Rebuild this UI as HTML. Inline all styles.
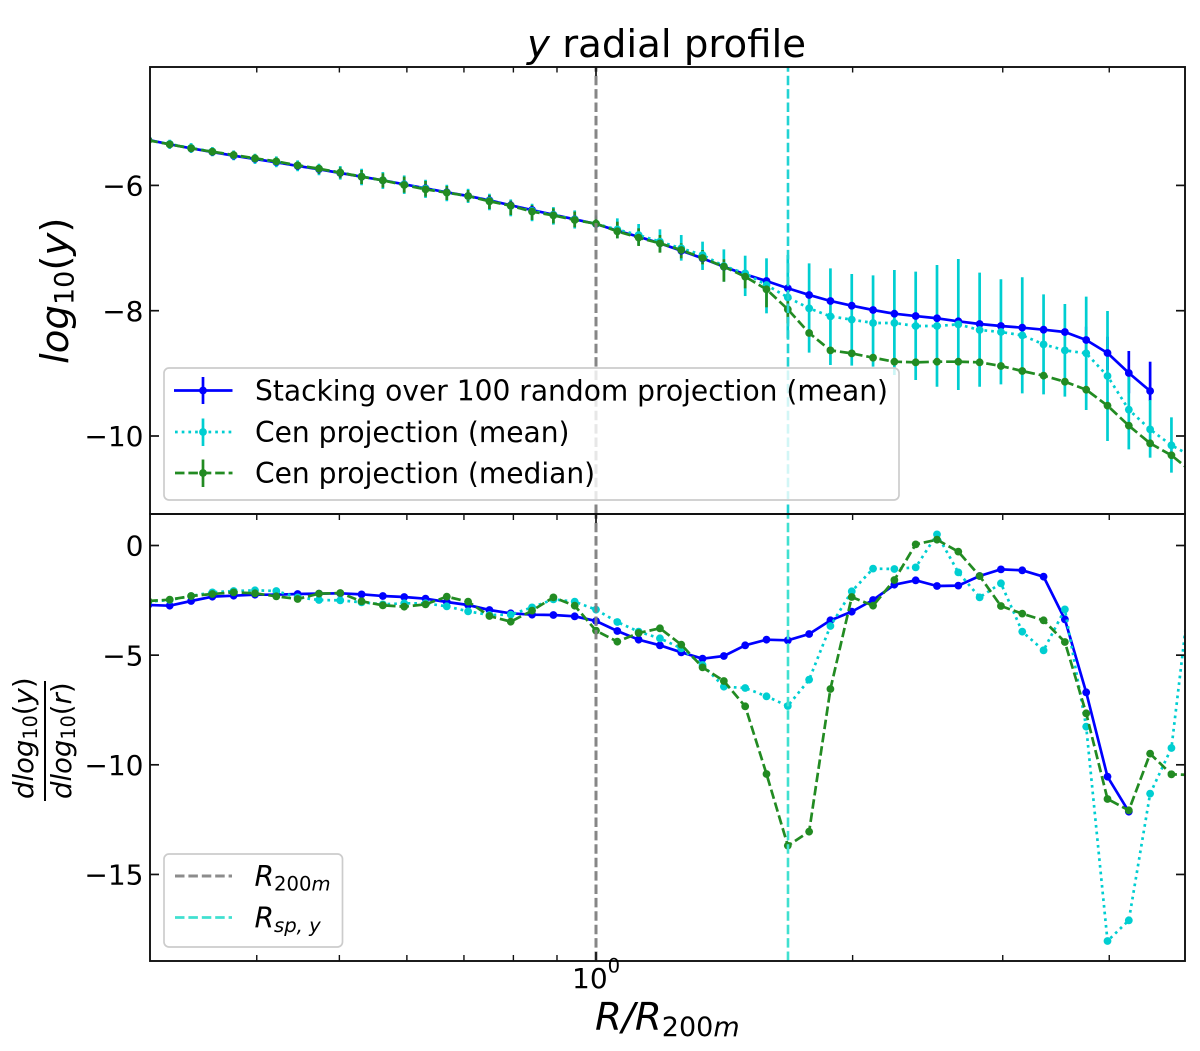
<!DOCTYPE html>
<html lang="en">
<head>
<meta charset="utf-8">
<title>y radial profile</title>
<style>
html,body{margin:0;padding:0;background:#fff;}
svg{display:block;}
text{font-family:"DejaVu Sans","Liberation Sans",sans-serif;fill:#000;}
.i{font-style:italic;}
.u{font-style:normal;}
</style>
</head>
<body>
<svg id="chart" xmlns="http://www.w3.org/2000/svg" width="1200" height="1051" viewBox="0 0 1200 1051">
  <defs>
    <clipPath id="clip-top"><rect x="150" y="67" width="1035" height="447"/></clipPath>
    <clipPath id="clip-bottom"><rect x="150" y="514" width="1035" height="447"/></clipPath>
  </defs>
  <rect x="0" y="0" width="1200" height="1051" fill="#fff"/>
  <g id="top-bars" clip-path="url(#clip-top)"></g>
  <g id="top-lines" clip-path="url(#clip-top)"></g>
  <g id="bottom-lines" clip-path="url(#clip-bottom)"></g>
  <line x1="596" y1="514" x2="596" y2="67" stroke="#808080" stroke-width="3" stroke-dasharray="9.5 3.9" opacity="0.95"/>
  <line x1="788" y1="514" x2="788" y2="67" stroke="#22d3d3" stroke-width="2.6" stroke-dasharray="9.5 3.9"/>
  <line x1="596" y1="961" x2="596" y2="514" stroke="#808080" stroke-width="3" stroke-dasharray="9.5 3.9" opacity="0.95"/>
  <line x1="788" y1="961" x2="788" y2="514" stroke="#40e0d0" stroke-width="2.6" stroke-dasharray="9.5 3.9"/>
  <g id="ticks"></g>
  <rect x="150" y="67" width="1035" height="447" fill="none" stroke="#111" stroke-width="1.9"/>
  <rect x="150" y="514" width="1035" height="447" fill="none" stroke="#111" stroke-width="1.9"/>

  <text x="527" y="57" font-size="38.7"><tspan class="i">y</tspan> radial profile</text>
  <text transform="translate(68,364) rotate(-90)" font-size="38.7" class="i">log<tspan font-size="27" dy="5.5" class="u">10</tspan><tspan dy="-5.5" class="u">(</tspan>y<tspan class="u">)</tspan></text>
  <g transform="translate(0,800) rotate(-90)">
    <text x="1" y="33" font-size="27.5" class="i">dlog<tspan font-size="19.2" dy="4" class="u">10</tspan><tspan dy="-4" class="u">(</tspan>y<tspan class="u">)</tspan></text>
    <rect x="-1" y="44" width="120" height="2" fill="#000"/>
    <text x="1" y="71" font-size="27.5" class="i">dlog<tspan font-size="19.2" dy="4" class="u">10</tspan><tspan dy="-4" class="u">(</tspan>r<tspan class="u">)</tspan></text>
  </g>
  <text x="595" y="1030" font-size="38.7" class="i">R/R<tspan font-size="27" dy="6" class="u">200</tspan><tspan font-size="27">m</tspan></text>
  <text x="572" y="988" font-size="28">10<tspan font-size="19.6" dy="-15.5">0</tspan></text>

  <g>
    <rect x="164" y="368" width="735" height="132" rx="5" fill="#fff" fill-opacity="0.8" stroke="#ccc" stroke-width="1.7"/>
    <line x1="174" y1="390.5" x2="232.5" y2="390.5" stroke="#0000ff" stroke-width="2.7"/>
    <line x1="203" y1="377" x2="203" y2="404" stroke="#0000ff" stroke-width="2.7"/>
    <circle cx="203" cy="390.5" r="3.9" fill="#0000ff"/>
    <text x="255" y="400.5" font-size="28.1">Stacking over 100 random projection (mean)</text>
    <line x1="175" y1="432" x2="232.5" y2="432" stroke="#00ced1" stroke-width="2.7" stroke-dasharray="2.7 4"/>
    <line x1="203" y1="418.5" x2="203" y2="446" stroke="#00ced1" stroke-width="2.7"/>
    <circle cx="203" cy="432" r="3.9" fill="#00ced1"/>
    <text x="255" y="442" font-size="28.1">Cen projection (mean)</text>
    <line x1="175" y1="473" x2="232.5" y2="473" stroke="#228b22" stroke-width="2.7" stroke-dasharray="9.5 3.9"/>
    <line x1="203" y1="459.5" x2="203" y2="487" stroke="#228b22" stroke-width="2.7"/>
    <circle cx="203" cy="473" r="3.9" fill="#228b22"/>
    <text x="255" y="483" font-size="28.1">Cen projection (median)</text>
  </g>
  <g>
    <rect x="164" y="854" width="178.5" height="93" rx="5" fill="#fff" fill-opacity="0.8" stroke="#ccc" stroke-width="1.7"/>
    <line x1="175" y1="876" x2="232" y2="876" stroke="#808080" stroke-width="2.9" stroke-dasharray="9.5 3.9" opacity="0.9"/>
    <text x="254.5" y="886" font-size="28.1" class="i">R<tspan font-size="19.6" dy="4.5" class="u">200</tspan><tspan font-size="19.6">m</tspan></text>
    <line x1="175" y1="917.5" x2="232" y2="917.5" stroke="#40e0d0" stroke-width="2.7" stroke-dasharray="9.5 3.9"/>
    <text x="254.5" y="927.5" font-size="28.1" class="i">R<tspan font-size="19.6" dy="4.5">sp, y</tspan></text>
  </g>
</svg>
<script>
// Shared x values: R / R200m
const radius = [0.2985,0.3162,0.3350,0.3548,0.3758,0.3981,0.4217,0.4467,0.4732,0.5012,0.5309,0.5623,0.5957,0.6310,0.6683,0.7079,0.7499,0.7943,0.8414,0.8913,0.9441,1,1.0593,1.1220,1.1885,1.2589,1.3335,1.4125,1.4962,1.5849,1.6788,1.7783,1.8836,1.9953,2.1135,2.2387,2.3714,2.5119,2.6607,2.8184,2.9854,3.1623,3.3497,3.5481,3.7584,3.9811,4.2170,4.4668,4.7315,5.0119];

// Upper panel: log10(y)
const blueProfile = [-5.275,-5.344,-5.408,-5.467,-5.526,-5.579,-5.631,-5.690,-5.743,-5.802,-5.861,-5.919,-5.982,-6.046,-6.110,-6.169,-6.238,-6.318,-6.393,-6.468,-6.541,-6.616,-6.723,-6.819,-6.924,-7.042,-7.164,-7.298,-7.419,-7.526,-7.642,-7.749,-7.845,-7.920,-7.989,-8.048,-8.085,-8.121,-8.169,-8.212,-8.244,-8.271,-8.303,-8.340,-8.468,-8.675,-8.994,-9.282];
const cyanProfile = [-5.280,-5.340,-5.402,-5.460,-5.518,-5.572,-5.622,-5.680,-5.735,-5.795,-5.858,-5.918,-5.985,-6.052,-6.115,-6.172,-6.246,-6.326,-6.408,-6.470,-6.545,-6.612,-6.705,-6.792,-6.898,-7.004,-7.111,-7.287,-7.404,-7.590,-7.787,-7.962,-8.090,-8.143,-8.196,-8.196,-8.244,-8.244,-8.218,-8.308,-8.340,-8.393,-8.537,-8.633,-8.680,-9.042,-9.580,-9.894,-10.149,-10.330];
const greenProfile = [-5.281,-5.345,-5.408,-5.462,-5.515,-5.568,-5.616,-5.680,-5.733,-5.797,-5.861,-5.919,-5.994,-6.063,-6.116,-6.169,-6.254,-6.324,-6.419,-6.478,-6.552,-6.611,-6.733,-6.834,-6.925,-7.031,-7.159,-7.297,-7.457,-7.659,-7.978,-8.356,-8.633,-8.681,-8.750,-8.814,-8.824,-8.814,-8.814,-8.824,-8.883,-8.963,-9.037,-9.133,-9.261,-9.516,-9.835,-10.117,-10.308,-10.585];

// Error bar limits in log10(y); null means no visible bar
const blueUpper = [null,null,null,null,null,null,null,null,null,null,null,null,null,null,null,null,null,null,null,null,null,null,null,null,null,null,null,null,null,null,null,null,null,null,null,null,null,null,null,null,null,null,null,null,-8.255,-8.415,-8.643,-8.814];
const blueLower = [null,null,null,null,null,null,null,null,null,null,null,null,null,null,null,null,null,null,null,null,null,null,null,null,null,null,null,null,null,null,null,null,null,null,null,null,null,null,null,null,null,null,null,null,-8.681,-8.947,-9.319,-9.441];
const cyanUpper = [-5.213,-5.271,-5.325,-5.388,-5.442,-5.495,-5.537,-5.601,-5.654,-5.692,-5.734,-5.787,-5.841,-5.910,-5.990,-6.054,-6.133,-6.224,-6.293,-6.346,-6.399,-6.479,-6.526,-6.616,-6.701,-6.792,-6.898,-7.021,-7.122,-7.164,-7.111,-7.244,-7.324,-7.414,-7.436,-7.350,-7.377,-7.271,-7.175,-7.393,-7.499,-7.467,-7.739,-7.893,-7.776,-8.005,-9.027,-9.426,-9.702,null];
const cyanLower = [-5.359,-5.418,-5.482,-5.535,-5.599,-5.657,-5.710,-5.774,-5.838,-5.907,-5.998,-6.056,-6.136,-6.200,-6.253,-6.280,-6.397,-6.493,-6.572,-6.626,-6.689,-6.743,-6.845,-6.951,-7.069,-7.201,-7.350,-7.537,-7.766,-8.042,-8.441,-8.670,-8.867,-8.877,-8.893,-9.027,-9.106,-9.213,-9.266,-9.213,-9.175,-9.319,-9.335,-9.372,-9.585,-10.080,-10.213,-10.346,-10.585,null];
const greenUpper = [-5.233,-5.291,-5.345,-5.408,-5.462,-5.515,-5.557,-5.621,-5.674,-5.712,-5.754,-5.807,-5.861,-5.930,-6.010,-6.074,-6.153,-6.244,-6.313,-6.366,-6.419,-6.499,-6.579,-6.685,-6.792,-6.925,-7.031,-7.180,-7.350,-7.563,-7.829,null,null,null,null,null,null,null,null,null,null,null,null,null,null,null,null,null,null,null];
const greenLower = [-5.339,-5.398,-5.462,-5.515,-5.579,-5.637,-5.690,-5.754,-5.818,-5.887,-5.978,-6.036,-6.116,-6.180,-6.233,-6.260,-6.377,-6.473,-6.552,-6.606,-6.669,-6.723,-6.845,-6.967,-7.074,-7.164,-7.260,-7.537,-7.643,-7.946,-8.202,null,null,null,null,null,null,null,null,null,null,null,null,null,null,null,null,null,null,null];

// Lower panel: d log10(y) / d log10(r)
const blueSlope = [-2.713,-2.744,-2.531,-2.333,-2.288,-2.242,-2.242,-2.211,-2.196,-2.181,-2.227,-2.303,-2.348,-2.424,-2.576,-2.713,-2.941,-3.093,-3.154,-3.169,-3.230,-3.443,-3.899,-4.294,-4.552,-4.871,-5.160,-5.039,-4.552,-4.294,-4.324,-4.036,-3.412,-3.017,-2.485,-1.786,-1.588,-1.847,-1.831,-1.391,-1.087,-1.132,-1.421,-3.367,-6.695,-10.541,-12.137];
const cyanSlope = [-2.561,-2.485,-2.303,-2.136,-2.075,-2.044,-2.075,-2.364,-2.485,-2.500,-2.592,-2.683,-2.637,-2.637,-2.774,-3.002,-3.169,-3.154,-2.820,-2.455,-2.561,-2.926,-3.488,-3.929,-4.233,-4.689,-5.449,-6.437,-6.498,-6.878,-7.319,-6.118,-3.671,-2.090,-1.056,-1.071,-0.996,0.509,-1.224,-2.364,-1.725,-3.929,-4.780,-2.911,-8.261,-18.034,-17.092,-11.316,-9.234,-1.026];
const greenSlope = [-2.531,-2.470,-2.303,-2.211,-2.136,-2.181,-2.318,-2.439,-2.196,-2.166,-2.546,-2.728,-2.789,-2.683,-2.333,-2.561,-3.215,-3.473,-2.971,-2.364,-2.744,-3.884,-4.385,-3.990,-3.777,-4.522,-5.556,-6.179,-7.334,-10.419,-13.687,-13.049,-6.543,-2.348,-2.744,-1.573,0.053,0.266,-0.281,-1.391,-2.759,-3.108,-3.412,-4.400,-7.653,-11.559,-12.076,-9.492,-10.434,-10.465];

// Tick values and labels
const topTickValues = [-6,-8,-10];
const topTickLabels = ['\u22126','\u22128','\u221210'];
const bottomTickValues = [0,-5,-10,-15];
const bottomTickLabels = ['0','\u22125','\u221210','\u221215'];
const minorTicks = [0.4,0.5,0.6,0.7,0.8,0.9,2,3,4];
const majorTicks = [1];

const NS = 'http://www.w3.org/2000/svg';
const xScale = r => 596 + 852.5 * Math.log10(r);
const yTop = v => 310.7 - (v + 8) * 62.65;
const yBottom = v => 545.5 - 21.93 * v;

function setAttrs(el, attrs) {
  for (const k in attrs) el.setAttribute(k, attrs[k]);
}

function addBars(parent, upper, lower, color, label) {
  upper.forEach((u, i) => {
    const l = lower[i];
    if (u === null || l === null) return;
    const bar = document.createElementNS(NS, 'line');
    
    
    setAttrs(bar, {x1: xScale(radius[i]), x2: xScale(radius[i]), y1: yTop(u), y2: yTop(l), stroke: color, 'stroke-width': 2.7});
    parent.appendChild(bar);
  });
}

function addSeries(parent, values, yScale, color, dash, label) {
  const path = document.createElementNS(NS, 'path');
  
  
  const d = values.map((v, i) => (i ? 'L' : 'M') + xScale(radius[i]).toFixed(2) + ' ' + yScale(v).toFixed(2)).join(' ');
  setAttrs(path, {d: d, fill: 'none', stroke: color, 'stroke-width': 2.7, 'stroke-linejoin': 'round'});
  if (dash) path.setAttribute('stroke-dasharray', dash);
  parent.appendChild(path);
  values.forEach((v, i) => {
    const dot = document.createElementNS(NS, 'circle');
    
    
    setAttrs(dot, {cx: xScale(radius[i]), cy: yScale(v), r: 3.9, fill: color});
    parent.appendChild(dot);
  });
}

function addTickLine(parent, x1, y1, x2, y2, name, width) {
  const t = document.createElementNS(NS, 'line');
  
  
  setAttrs(t, {x1: x1, y1: y1, x2: x2, y2: y2, stroke: '#111', 'stroke-width': width});
  parent.appendChild(t);
}

function addYTicks(parent, values, labels, scale, prefix) {
  values.forEach((v, i) => {
    const y = scale(v);
    addTickLine(parent, 150, y, 159, y, prefix + '-left-tick', 1.7);
    addTickLine(parent, 1176, y, 1185, y, prefix + '-right-tick', 1.7);
    const tx = document.createElementNS(NS, 'text');
    
    
    setAttrs(tx, {x: 143.5, y: y + 10.2, 'text-anchor': 'end', 'font-size': 28});
    tx.textContent = labels[i];
    parent.appendChild(tx);
  });
}

const CYAN = '#00ced1', BLUE = '#0000ff', GREEN = '#228b22';
const DOTTED = '2.7 4', DASHED = '9.5 3.9';

const topBars = document.getElementById('top-bars');
addBars(topBars, blueUpper, blueLower, BLUE, 'stacking-mean');
addBars(topBars, cyanUpper, cyanLower, CYAN, 'cen-mean');
addBars(topBars, greenUpper, greenLower, GREEN, 'cen-median');

const topLines = document.getElementById('top-lines');
addSeries(topLines, blueProfile, yTop, BLUE, null, 'stacking-mean-profile');
addSeries(topLines, cyanProfile, yTop, CYAN, DOTTED, 'cen-mean-profile');
addSeries(topLines, greenProfile, yTop, GREEN, DASHED, 'cen-median-profile');

const bottomLines = document.getElementById('bottom-lines');
addSeries(bottomLines, blueSlope, yBottom, BLUE, null, 'stacking-mean-slope');
addSeries(bottomLines, cyanSlope, yBottom, CYAN, DOTTED, 'cen-mean-slope');
addSeries(bottomLines, greenSlope, yBottom, GREEN, DASHED, 'cen-median-slope');

const ticks = document.getElementById('ticks');
minorTicks.forEach(r => {
  const x = xScale(r);
  addTickLine(ticks, x, 67, x, 72.5, 'top-panel-minor-x-tick', 1.4);
  addTickLine(ticks, x, 514, x, 520, 'bottom-panel-top-minor-x-tick', 1.4);
  addTickLine(ticks, x, 961, x, 955, 'bottom-panel-minor-x-tick', 1.4);
});
majorTicks.forEach(r => {
  const x = xScale(r);
  addTickLine(ticks, x, 67, x, 76, 'top-panel-major-x-tick', 1.7);
  addTickLine(ticks, x, 514, x, 523, 'bottom-panel-top-major-x-tick', 1.7);
  addTickLine(ticks, x, 961, x, 952, 'bottom-panel-major-x-tick', 1.7);
});
addYTicks(ticks, topTickValues, topTickLabels, yTop, 'top-y');
addYTicks(ticks, bottomTickValues, bottomTickLabels, yBottom, 'bottom-y');
</script>
</body>
</html>
